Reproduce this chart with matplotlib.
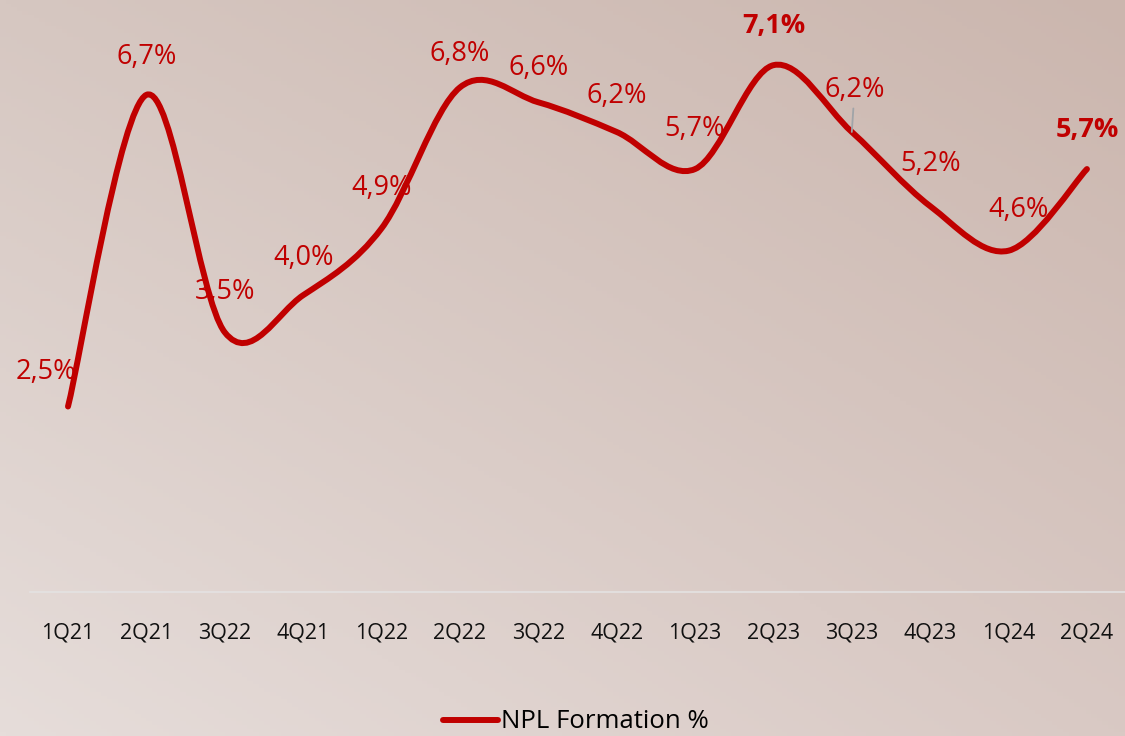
"""NPL formation rate by quarter, smoothed line with value labels."""

import matplotlib

matplotlib.use("Agg")
import matplotlib.pyplot as plt
import numpy as np
from matplotlib.patches import PathPatch
from matplotlib.path import Path
from matplotlib.lines import Line2D

plt.rcParams["font.family"] = ["Open Sans", "DejaVu Sans"]

quarters = ["1Q21", "2Q21", "3Q22", "4Q21", "1Q22", "2Q22", "3Q22",
            "4Q22", "1Q23", "2Q23", "3Q23", "4Q23", "1Q24", "2Q24"]
npl_formation = [2.5, 6.7, 3.5, 4.0, 4.9, 6.8, 6.6,
                 6.2, 5.7, 7.1, 6.2, 5.2, 4.6, 5.7]
bold_idx = [9, 13]

# label offsets in points (dx, dy) relative to each data point
label_offsets = [(-16, 25), (0, 27), (0, 29), (0, 27), (0, 29), (0, 24), (0, 25),
                 (0, 26), (0, 29), (0, 28), (2, 30), (0, 30), (7, 29), (0, 28)]

LINE_RED = "#C00000"
W, H, DPI = 1125, 736, 100

fig = plt.figure(figsize=(W / DPI, H / DPI), dpi=DPI)

# soft diagonal background wash
bg = fig.add_axes([0, 0, 1, 1], zorder=-10)
tl = np.array([214, 199, 193]) / 255
tr = np.array([203, 182, 174]) / 255
bl = np.array([230, 221, 218]) / 255
br = np.array([217, 201, 196]) / 255
u = np.linspace(0, 1, 200)[None, :, None]
v = np.linspace(0, 1, 200)[:, None, None]
grad = (1 - v) * ((1 - u) * tl + u * tr) + v * ((1 - u) * bl + u * br)
bg.imshow(grad, aspect="auto", extent=[0, 1, 0, 1])
bg.axis("off")

# axes: x index 0 at 68px, step 78.4px; y zero at 592px, 74.2px per unit
x0_px, step_px = 68, 78.38
y0_px, unit_px = 592, 74.2
left_px, right_px = 30, W
ax = fig.add_axes([left_px / W, 1 - y0_px / H, (right_px - left_px) / W, y0_px / H])
ax.set_xlim((left_px - x0_px) / step_px, (right_px - x0_px) / step_px)
ax.set_ylim(0, y0_px / unit_px)
ax.patch.set_alpha(0)

xs = np.arange(len(quarters), dtype=float)
ys = np.array(npl_formation, dtype=float)

# smoothed line: cubic Bezier segments with Catmull-Rom style control points
verts = [(xs[0], ys[0])]
codes = [Path.MOVETO]
n = len(xs)
for i in range(n - 1):
    p_prev = np.array([xs[max(i - 1, 0)], ys[max(i - 1, 0)]])
    p0 = np.array([xs[i], ys[i]])
    p1 = np.array([xs[i + 1], ys[i + 1]])
    p_next = np.array([xs[min(i + 2, n - 1)], ys[min(i + 2, n - 1)]])
    c1 = p0 + (p1 - p_prev) / 6
    c2 = p1 - (p_next - p0) / 6
    verts += [tuple(c1), tuple(c2), tuple(p1)]
    codes += [Path.CURVE4] * 3
ax.add_patch(PathPatch(Path(verts, codes), facecolor="none", edgecolor=LINE_RED,
                       linewidth=4.3, capstyle="round", joinstyle="round", zorder=3))

for i, val in enumerate(npl_formation):
    dx, dy = label_offsets[i]
    text = f"{val:.1f}%".replace(".", ",")
    weight = "bold" if i in bold_idx else "normal"
    kw = {}
    if i == 10:
        # short leader from the label down to the line
        kw["arrowprops"] = dict(arrowstyle="-", color="#A0A4A8", lw=1.3,
                                shrinkA=1, shrinkB=0)
    ax.annotate(text, (xs[i], val), xytext=(dx, dy), textcoords="offset points",
                ha="center", va="center", fontsize=19.5, color=LINE_RED,
                fontweight=weight, zorder=4, **kw)

ax.set_xticks(xs)
ax.set_xticklabels(quarters, fontsize=15.5, color="#111111")
ax.tick_params(axis="x", length=0, pad=22)
ax.set_yticks([])
for side in ("top", "right", "left"):
    ax.spines[side].set_visible(False)
ax.spines["bottom"].set_color("#E4E2E2")
ax.spines["bottom"].set_linewidth(1.2)

handle = Line2D([], [], color=LINE_RED, linewidth=4.3, solid_capstyle="round")
fig.legend([handle], ["NPL Formation %"], loc="center",
           bbox_to_anchor=(576 / W, 1 - 722 / H), frameon=False,
           fontsize=18.5, handlelength=2.15, handletextpad=0.1,
           borderpad=0, borderaxespad=0)

fig.savefig("out.png", dpi=DPI)
